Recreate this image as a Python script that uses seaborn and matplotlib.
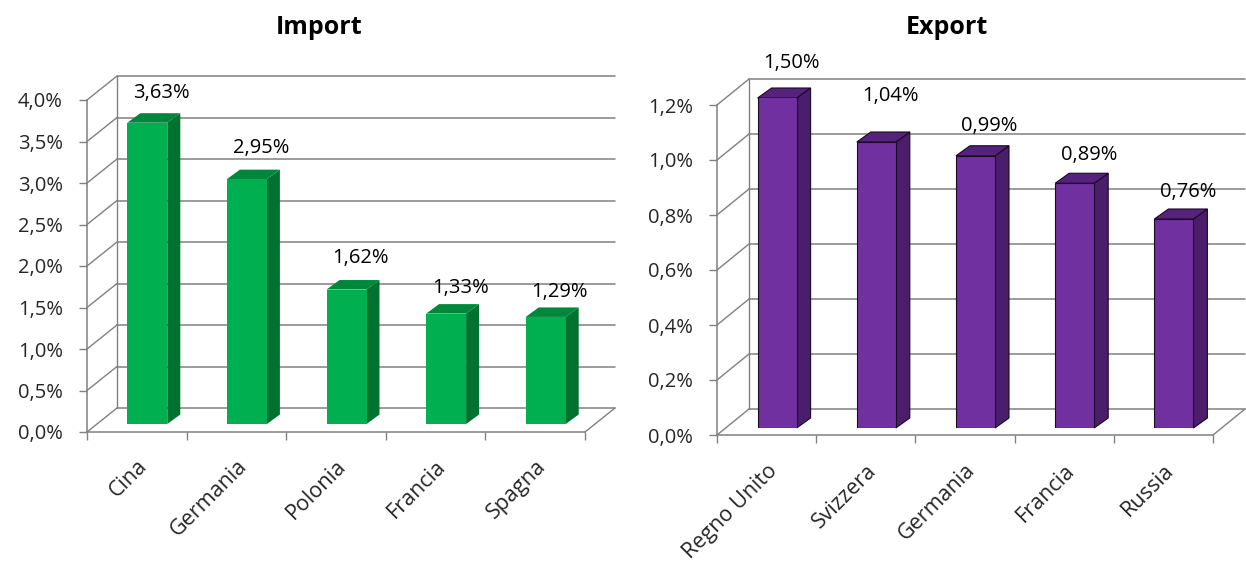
import numpy as np
import pandas as pd
import matplotlib
matplotlib.use("Agg")
import matplotlib.pyplot as plt
from matplotlib.patches import Polygon, Rectangle
from matplotlib.transforms import ScaledTranslation
import seaborn as sns

# Quote di mercato: import ed export
import_countries = ["Cina", "Germania", "Polonia", "Francia", "Spagna"]
import_shares = [3.63, 2.95, 1.62, 1.33, 1.29]
import_ticks = [0.0, 0.5, 1.0, 1.5, 2.0, 2.5, 3.0, 3.5, 4.0]

export_countries = ["Regno Unito", "Svizzera", "Germania", "Francia", "Russia"]
export_shares = [1.50, 1.04, 0.99, 0.89, 0.76]
export_ticks = [0.0, 0.2, 0.4, 0.6, 0.8, 1.0, 1.2]

# extra vertical nudge (px) of each value label above its bar
import_label_lift = [1, 2, 3, -3, -4]
export_label_lift = [6, 17, 1, -1, -2]

sns.set_theme(style="white")
plt.rcParams["font.family"] = ["Open Sans", "DejaVu Sans"]

W, H, DPI = 1246, 567, 100
fig = plt.figure(figsize=(W / DPI, H / DPI), dpi=DPI)
fig.patch.set_facecolor("white")

GRID = "#808080"
FS = 14.5
FS_CAT = 15.5


def pct(v, nd):
    return f"{v:.{nd}f}".replace(".", ",") + "%"


def shift(ax, dx, dy):
    return ax.transData + ScaledTranslation(dx / DPI, dy / DPI, fig.dpi_scale_trans)


def panel(x_left, x_right, y_zero, y_top, cats, vals, lifts, ticks, title, title_x,
          front, side, top, edge, bar_off, bar_w_px, depth, wall, label_pad, xlab_pad):
    ax = fig.add_axes([x_left / W, 1 - y_zero / H, (x_right - x_left) / W, (y_zero - y_top) / H])
    n = len(cats)
    ymax = ticks[-1]
    sx = (x_right - x_left) / n
    sy = (y_zero - y_top) / ymax

    df = pd.DataFrame({"paese": cats, "quota": vals})
    sns.barplot(data=df, x="paese", y="quota", ax=ax, color=front, saturation=1,
                width=bar_w_px / sx, edgecolor=edge if edge else front,
                linewidth=0.8 if edge else 0, zorder=3)
    ax.set_xlim(-0.5, n - 0.5)
    ax.set_ylim(0, ymax)
    ax.set_xlabel("")
    ax.set_ylabel("")

    # bars sit half-way into the depth of the box
    tb = shift(ax, *bar_off)
    clip = Rectangle((-0.5, 0), n, ymax, transform=tb, facecolor="none", edgecolor="none")
    ddx, ddy = depth[0] / sx, depth[1] / sy
    for p, lift in zip(ax.patches[:n], lifts):
        p.set_transform(tb)
        p.set_clip_path(clip)
        x0, w, h = p.get_x(), p.get_width(), p.get_height()
        hv = min(h, ymax)
        x1 = x0 + w
        lw = 0.8 if edge else 0
        ec = edge if edge else "none"
        ax.add_patch(Polygon([(x1, 0), (x1, hv), (x1 + ddx, hv + ddy), (x1 + ddx, ddy)],
                             closed=True, facecolor=side, edgecolor=ec, linewidth=lw,
                             transform=tb, zorder=2.9, clip_on=False))
        ax.add_patch(Polygon([(x0, hv), (x1, hv), (x1 + ddx, hv + ddy), (x0 + ddx, hv + ddy)],
                             closed=True, facecolor=top, edgecolor=ec, linewidth=lw,
                             transform=tb, zorder=2.9, clip_on=False))
        ax.text(x0 + w / 2, hv, pct(h, 2),
                transform=shift(ax, bar_off[0] + label_pad[0], bar_off[1] + label_pad[1] + lift),
                ha="center", va="center", fontsize=FS, color="black", zorder=5, clip_on=False)

    # back wall, left wall and floor edges
    bx, by = wall[0] / sx, wall[1] / sy
    for t in ticks:
        ax.plot([-0.5 + bx, n - 0.5 + bx], [t + by, t + by], color=GRID, lw=1.1, zorder=1, clip_on=False)
        ax.plot([-0.5, -0.5 + bx], [t, t + by], color=GRID, lw=1.0, zorder=1, clip_on=False)
    ax.plot([-0.5 + bx, -0.5 + bx], [by, ymax + by], color=GRID, lw=1.0, zorder=1, clip_on=False)
    ax.plot([n - 0.5, n - 0.5 + bx], [0, by], color=GRID, lw=1.0, zorder=1, clip_on=False)

    for s in ("top", "right"):
        ax.spines[s].set_visible(False)
    for s in ("left", "bottom"):
        ax.spines[s].set_color(GRID)
        ax.spines[s].set_linewidth(1.1)
        ax.spines[s].set_zorder(1)

    ax.set_yticks(ticks)
    ax.set_yticklabels([pct(t, 1) for t in ticks], fontsize=FS)
    ax.tick_params(axis="y", which="major", direction="out", length=5.5, width=1.0,
                   color=GRID, pad=12, left=True)
    ax.set_xticks(np.arange(n + 1) - 0.5)
    ax.set_xticklabels([])
    ax.set_xticks(np.arange(n), minor=True)
    ax.set_xticklabels(cats, minor=True, rotation=45, ha="right", rotation_mode="anchor",
                       fontsize=FS_CAT)
    ax.tick_params(axis="x", which="major", direction="out", length=5.5, width=1.0,
                   color=GRID, bottom=True)
    ax.tick_params(axis="x", which="minor", length=0, pad=xlab_pad, bottom=True)
    ax.grid(False)
    ax.patch.set_alpha(0)

    fig.text(title_x / W, 1 - 27 / H, title, ha="center", va="center",
             fontsize=18, fontweight="bold", color="black")
    return ax


panel(87, 585, 432, 100, import_countries, import_shares, import_label_lift, import_ticks,
      "Import", 319, "#00b050", "#00722f", "#00873c", None,
      (10.5, 8), 40, (13, 9.5), (30, 24), (14, 29), 17)
panel(717, 1213, 435, 105, export_countries, export_shares, export_label_lift, export_ticks,
      "Export", 947, "#7030a0", "#4a1e6a", "#56237c", "#1a0a26",
      (10.5, 7), 39, (14, 10), (32, 26), (14, 29), 18)

fig.savefig("out.png", dpi=DPI, facecolor="white")
